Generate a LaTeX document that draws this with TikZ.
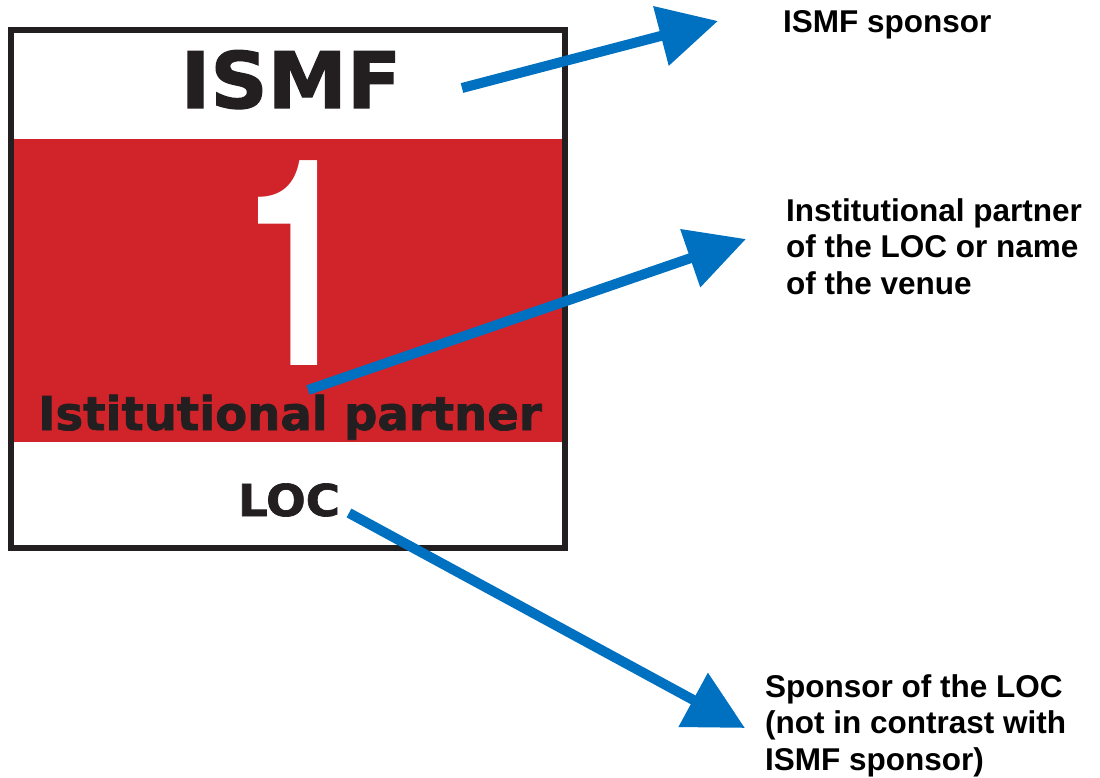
\documentclass[tikz,border=0pt]{standalone}
\usepackage{fontspec}
\setmainfont{Liberation Sans}
\newfontfamily\bibfont[BoldFeatures={FakeBold=1.5}]{DejaVu Sans}
\newfontfamily\onefont{TeX Gyre Heros}
\usetikzlibrary{arrows.meta}
\definecolor{bibred}{HTML}{D1232A}
\definecolor{bibdark}{HTML}{231F20}
\definecolor{arrowblue}{HTML}{0070C0}
\tikzset{
  bibtext/.style={inner sep=0pt, text=bibdark},
  label/.style={inner sep=0pt, align=left, font=\fontsize{31.5}{36.6}\selectfont\bfseries, text=black},
  pointer/.style={draw=arrowblue, line width=10pt, -{Triangle[length=59pt,width=59pt]}}
}
\begin{document}
\begin{tikzpicture}[x=1pt,y=-1pt]
\useasboundingbox (0,0) rectangle (1100,778);
% bib
\fill[bibred] (14,139) rectangle (562,442);
\draw[bibdark, line width=5.5pt] (11,30) rectangle (565,548);
\node[bibtext, anchor=base, font=\fontsize{78}{80}\selectfont\bibfont\bfseries] (ismf) at (291,108) {\scalebox{1.02}[1]{ISMF}};
\node[inner sep=0pt, anchor=base, text=white, text depth=0pt, font=\fontsize{289}{290}\selectfont\onefont\bfseries] (one) at (299,365) {\scalebox{0.66}[1]{1}};
\node[bibtext, anchor=base, font=\fontsize{46.6}{48}\selectfont\bibfont\bfseries] (partner) at (290,430) {Istitutional partner};
\node[bibtext, anchor=base, font=\fontsize{44}{46}\selectfont\bibfont\bfseries] (loc) at (289,516) {\scalebox{1.06}[1]{LOC}};
% labels
\node[label, anchor=base west] (l1) at (783,33) {ISMF sponsor};
\node[label, anchor=north west] (l2) at (786,198) {Institutional partner\\of the LOC or name\\of the venue};
\node[label, anchor=north west] (l3) at (765,674) {Sponsor of the LOC\\(not in contrast with\\ISMF sponsor)};
% arrow end points
\coordinate (s1) at (462,88);
\coordinate (t1) at (718,21);
\coordinate (s2) at (308,390);
\coordinate (t2) at (746,239);
\coordinate (s3) at (349,513);
\coordinate (t3) at (745,728);
\draw[pointer] (s1) -- (t1);
\draw[pointer] (s2) -- (t2);
\draw[pointer] (s3) -- (t3);
\end{tikzpicture}
\end{document}
